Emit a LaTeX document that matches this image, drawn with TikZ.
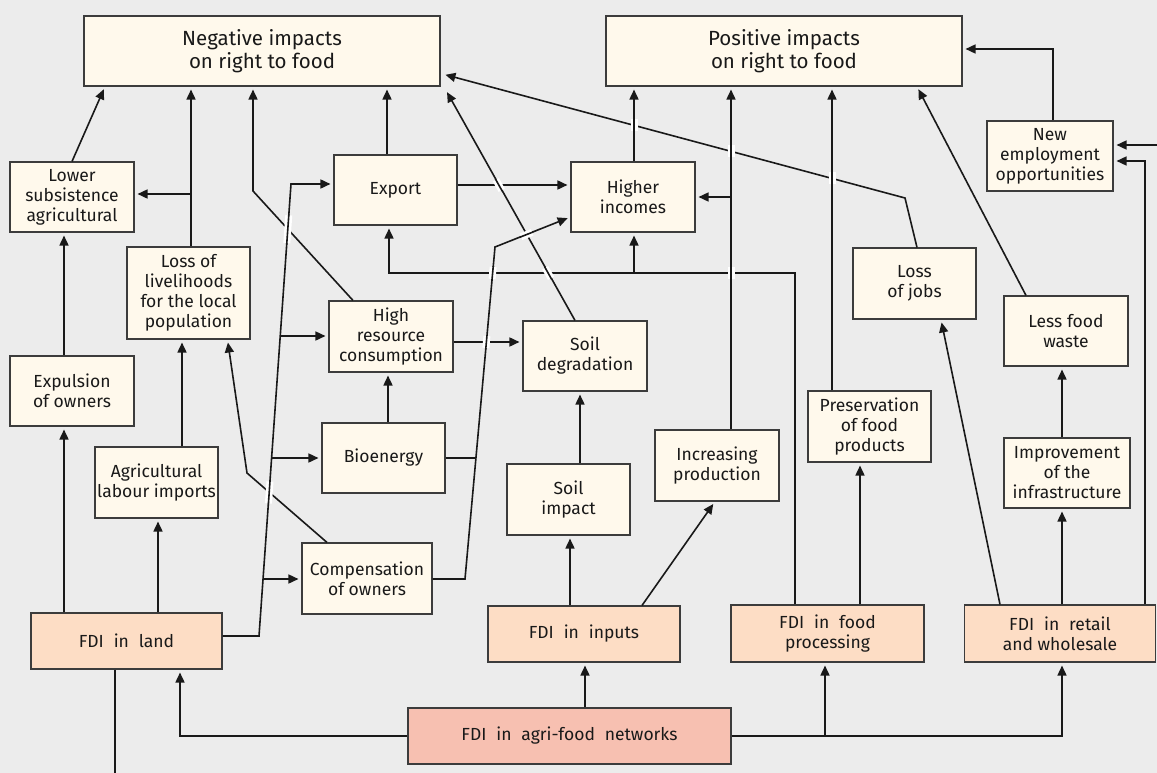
\documentclass[tikz,border=0pt]{standalone}
\usepackage{fontspec}
\setmainfont{Fira Sans}
\usetikzlibrary{arrows.meta,calc}
\definecolor{bg}{RGB}{236,236,236}
\definecolor{cream}{RGB}{255,249,236}
\definecolor{fdi}{RGB}{253,221,197}
\definecolor{agri}{RGB}{247,192,177}
\definecolor{edgec}{RGB}{60,60,60}
\definecolor{ink}{RGB}{25,25,25}
\newcommand\widesp{\hspace{0.3em}\ }
\newcommand\bridgemark[3]{%
  \draw[white, line width=7pt] ($(#1)!#3!(#2)$) -- ($(#1)!-#3!(#2)$);
  \draw[conn] ($(#1)!#3+1pt!(#2)$) -- ($(#1)!-#3-1pt!(#2)$);}
\begin{document}
\begin{tikzpicture}[x=1pt,y=-1pt,
 box/.style={draw=edgec, line width=1.1pt, fill=cream, inner sep=2pt, align=center,
   font=\fontsize{17.5}{20}\selectfont, text=ink},
 title/.style={box, font=\fontsize{20.5}{23}\selectfont},
 fdibox/.style={box, fill=fdi},
 agribox/.style={box, fill=agri},
 conn/.style={draw=ink, line width=1.6pt},
 arr/.style={conn, -{Triangle[length=10pt,width=9pt]}, shorten >=3pt},
]
\fill[bg] (0,0) rectangle (1157,773);
\useasboundingbox (0,0) rectangle (1157,773);

% nodes
\node[title, minimum width=356pt, minimum height=70pt] (neg) at (262,51) {Negative impacts\\on right to food};
\node[title, minimum width=356pt, minimum height=70pt] (pos) at (784,51) {Positive impacts\\on right to food};
\node[box, minimum width=124pt, minimum height=70pt] (lower) at (72,197) {Lower\\subsistence\\agricultural};
\node[box, minimum width=123pt, minimum height=70pt] (export) at (395.5,190) {Export};
\node[box, minimum width=124pt, minimum height=70pt] (higher) at (633,197) {Higher\\incomes};
\node[box, minimum width=126pt, minimum height=70pt] (newemp) at (1050,156) {New\\employment\\opportunities};
\node[box, minimum width=123pt, minimum height=92pt] (livelihoods) at (188.5,293) {Loss of\\livelihoods\\for the local\\population};
\node[box, minimum width=123pt, minimum height=71pt] (jobs) at (914.5,283.5) {Loss\\of jobs};
\node[box, minimum width=124pt, minimum height=71pt] (highres) at (391,336.5) {High\\resource\\consumption};
\node[box, minimum width=124pt, minimum height=70pt] (soildeg) at (585,356) {Soil\\degradation};
\node[box, minimum width=124pt, minimum height=70pt] (lesswaste) at (1066,331) {Less food\\waste};
\node[box, minimum width=124pt, minimum height=70pt] (expulsion) at (72,391) {Expulsion\\of owners};
\node[box, minimum width=123pt, minimum height=71pt] (preservation) at (869.5,426.5) {Preservation\\of food\\products};
\node[box, minimum width=123pt, minimum height=70pt] (bioenergy) at (383.5,458) {Bioenergy};
\node[box, minimum width=124pt, minimum height=71pt] (increasing) at (717,465.5) {Increasing\\production};
\node[box, minimum width=126pt, minimum height=70pt] (improvement) at (1067,473) {Improvement\\of the\\infrastructure};
\node[box, minimum width=123pt, minimum height=71pt] (agrilabour) at (156.5,482.5) {Agricultural\\labour imports};
\node[box, minimum width=130pt, minimum height=71pt] (compensation) at (367,578.5) {Compensation\\of owners};
\node[box, minimum width=123pt, minimum height=71pt] (soilimpact) at (568.5,499.5) {Soil\\impact};
\node[fdibox, minimum width=191pt, minimum height=56pt] (fdiland) at (126.5,641) {FDI\widesp in\widesp land};
\node[fdibox, minimum width=192pt, minimum height=56pt] (fdiinputs) at (584,634) {FDI\widesp in\widesp inputs};
\node[fdibox, minimum width=193pt, minimum height=57pt] (fdifood) at (827.5,633.5) {FDI\widesp in\widesp food\\processing};
\node[fdibox, minimum width=191pt, minimum height=57pt] (fdiretail) at (1060,633.5) {FDI\widesp in\widesp retail\\and wholesale};
\node[agribox, minimum width=323pt, minimum height=56pt] (agrifood) at (569.5,736) {FDI\widesp in\widesp agri-food\widesp networks};

% free-end coordinates and junctions
\coordinate (xR) at (1157,145);
\coordinate (bot) at (115,773);
\coordinate (j1) at (191,194);
\coordinate (j2) at (731,197);
\coordinate (j3) at (634,273);
\coordinate (j5) at (825,736);
\coordinate (c1) at (465,579);
\coordinate (c2) at (495,247);
\coordinate (j4) at ($(c1)!{121/332}!(c2)$);
\coordinate (L1) at (259,636);
\coordinate (L2) at (291,184);
\coordinate (b1) at ($(L1)!{(636-336)/452}!(L2)$);
\coordinate (b2) at ($(L1)!{(636-458)/452}!(L2)$);
\coordinate (b3) at ($(L1)!{(636-579)/452}!(L2)$);

% left column
\draw[arr] (fdiland.north -| 64,0) -- (expulsion.south -| 64,0);
\draw[arr] (expulsion.north -| 64,0) -- (lower.south -| 64,0);
\draw[arr] (fdiland.north -| 158,0) -- (agrilabour.south -| 158,0);
\draw[arr] (agrilabour.north -| 182,0) -- (livelihoods.south -| 182,0);
\draw[arr] (lower.north) -- (neg.south -| 105,0);
\draw[arr] (livelihoods.north -| 191,0) -- (neg.south -| 191,0);
\draw[arr] (j1) -- (lower.east |- j1);
\draw[arr] (highres.north -| 353,0) -- (253,191) -- (neg.south -| 253,0);
\draw[arr] (export.north -| 387,0) -- (neg.south -| 387,0);
\draw[arr] (soildeg.north -| 575,0) -- ($(neg.south east)+(5,3)$);
\draw[arr] (jobs.north -| 917,0) -- (905,198) -- ($(neg.east)+(2,23)$);

% positive side
\draw[arr] (higher.north -| 634,0) -- (pos.south -| 634,0);
\draw[arr] (increasing.north -| 731,0) -- (pos.south -| 731,0);
\draw[arr] (j2) -- (higher.east |- j2);
\draw[arr] (preservation.north -| 832,0) -- (pos.south -| 832,0);
\draw[arr] (lesswaste.north -| 1026,0) -- (pos.south -| 917,0);
\draw[arr] (newemp.north -| 1053,0) -- (1053,49) -- (pos.east |- 0,49);
\draw[arr] (xR) -- (newemp.east |- xR);
\draw[arr] (fdiretail.north -| 1145,0) -- (1145,161) -- (newemp.east |- 0,161);
\draw[arr] (fdiretail.north -| 1062,0) -- (improvement.south -| 1062,0);
\draw[arr] (improvement.north -| 1062,0) -- (lesswaste.south -| 1062,0);
\draw[arr] (fdiretail.north -| 1000,0) -- (jobs.south -| 941,0);
\draw[arr] (fdifood.north -| 860,0) -- (preservation.south -| 860,0);
\draw[arr] (fdifood.north -| 795,0) -- (795,273) -- (389,273) -- (export.south -| 389,0);
\draw[arr] (j3) -- (higher.south -| j3);
\draw[arr] (fdiinputs.north -| 642,0) -- (increasing.south -| 715,0);
\draw[arr] (fdiinputs.north -| 570,0) -- (soilimpact.south -| 570,0);
\draw[arr] (soilimpact.north -| 580,0) -- (soildeg.south -| 580,0);
\draw[arr] (highres.east |- 0,342) -- (soildeg.west |- 0,342);
\draw[arr] (bioenergy.north -| 388,0) -- (highres.south -| 388,0);
\draw[arr] (export.east |- 0,185) -- (higher.west |- 0,185);

% compensation line
\draw[arr] (compensation.east |- c1) -- (c1) -- (c2) -- (higher.west |- 0,217);
\draw[conn] (bioenergy.east |- j4) -- (j4);
\draw[arr] (compensation.north -| 327,0) -- (247,473) -- (livelihoods.south -| 227.5,0);

% FDI in land long line
\draw[arr] (fdiland.east |- L1) -- (L1) -- (L2) -- (export.west |- L2);
\draw[arr] (b1) -- (highres.west |- b1);
\draw[arr] (b2) -- (bioenergy.west |- b2);
\draw[arr] (b3) -- (compensation.west |- b3);

% bottom
\draw[arr] (agrifood.west) -- (agrifood.west -| 180,0) -- (fdiland.south -| 180,0);
\draw[arr] (agrifood.north -| 585,0) -- (fdiinputs.south -| 585,0);
\draw[arr] (agrifood.east) -- (agrifood.east -| 1062,0) -- (fdiretail.south -| 1062,0);
\draw[arr] (j5) -- (fdifood.south -| j5);
\draw[conn] (fdiland.south -| bot) -- (bot);

% crossing marks
\coordinate (xa) at (intersection of 905,198--442,74 and 634,100--634,200);
\coordinate (xb) at (intersection of 905,198--442,74 and 731,100--731,200);
\coordinate (xc) at (intersection of 905,198--442,74 and 832,100--832,200);
\coordinate (xd) at (intersection of 575,321--445,89 and 400,185--600,185);
\coordinate (xe) at (intersection of 495,247--571,217 and 575,321--445,89);
\coordinate (xf) at (intersection of 465,579--495,247 and 380,273--800,273);
\coordinate (xg) at (intersection of 575,321--445,89 and 380,273--800,273);
\coordinate (xh) at (731,273);
\coordinate (xi) at (intersection of 465,579--495,247 and 400,342--520,342);
\coordinate (xj) at (intersection of 259,636--291,184 and 353,301--253,191);
\coordinate (xk) at (intersection of 259,636--291,184 and 327,543--247,473);
\bridgemark{xa}{634,0}{6pt}
\bridgemark{xb}{731,0}{6pt}
\bridgemark{xc}{832,0}{6pt}
\bridgemark{xd}{445,89}{6pt}
\bridgemark{xe}{571,217}{6pt}
\bridgemark{xf}{495,247}{6pt}
\bridgemark{xg}{445,89}{6pt}
\bridgemark{xh}{731,0}{6pt}
\bridgemark{xi}{495,247}{6pt}
\bridgemark{xj}{291,184}{14pt}
\bridgemark{xk}{291,184}{11pt}
\end{tikzpicture}
\end{document}
